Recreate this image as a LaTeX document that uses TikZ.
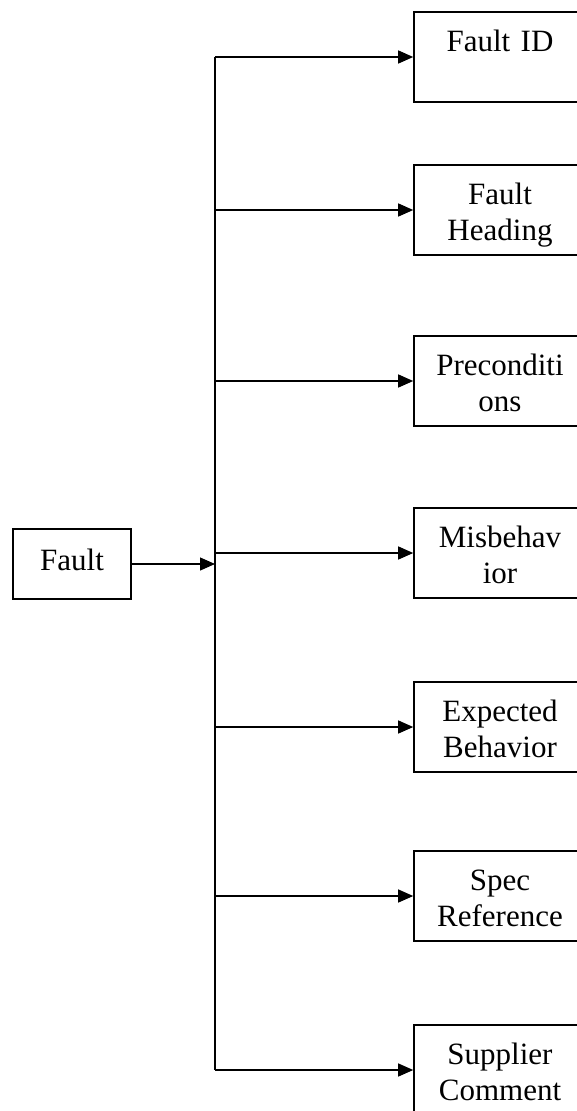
\documentclass[tikz,border=0pt]{standalone}
\usepackage{fontspec}
\setmainfont{Liberation Serif}
\usetikzlibrary{arrows.meta}

\tikzset{
	part/.style={draw, line width=1.6pt, inner sep=0pt, text width=172pt, align=center, text height=39pt, text depth=51pt},
	link/.style={line width=1.3pt},
	tolink/.style={link, -{Triangle[length=15pt, width=13pt]}}
}

\begin{document}
\begin{tikzpicture}[x=1pt, y=-1pt, font=\fontsize{31}{36}\selectfont]
		%%%%% START %%%%%
		
		\useasboundingbox (0, 0) rectangle (577, 1111);
		\clip (0, 0) rectangle (577, 1111);
		
		\node[draw, line width=1.6pt, inner sep=0pt, text width=118pt, align=center, text height=41pt, text depth=29pt] (fault) at (72, 564) {Fault};
		\coordinate (spine) at (215, 564);
		
		\node[part] (fid) at (500, 57) {Fault ID};
		\node[part] (fhead) at (500, 210) {Fault\\Heading};
		\node[part] (precond) at (500, 381) {Preconditi\\ons};
		\node[part] (misbeh) at (500, 553) {Misbehav\\ior};
		\node[part] (expect) at (500, 727) {Expected\\Behavior};
		\node[part] (specref) at (500, 896) {Spec\\Reference};
		\node[part] (supcomm) at (500, 1070) {Supplier\\Comment};
		
		\draw[link] (spine |- fid.west) -- (spine |- supcomm.west);
		\draw[tolink] (fault) -- (spine);
		\foreach \p in {fid, fhead, precond, misbeh, expect, specref, supcomm}
			\draw[tolink] (spine |- \p.west) -- (\p.west);
		
		%%%%% END %%%%%
\end{tikzpicture}
\end{document}
